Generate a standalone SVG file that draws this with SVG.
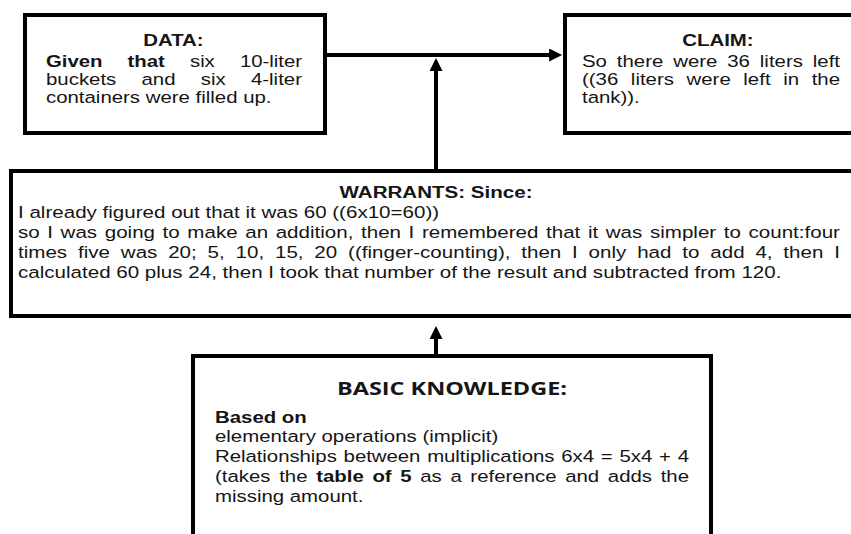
<svg xmlns="http://www.w3.org/2000/svg" width="851" height="534" viewBox="0 0 851 534">
<style>
.box{fill:#fff;stroke:#000;stroke-width:4}
.t{font-family:"Liberation Sans",Arial,sans-serif;font-size:17px;fill:#151515}
.b{font-weight:bold}
.hd{font-family:"Open Sans","Noto Sans",sans-serif;font-size:17px;font-weight:bold;fill:#151515}
.c{fill:none;stroke:#000;stroke-width:4}
</style>
<defs>
<marker id="ah" viewBox="0 0 10 10" refX="3" refY="5" markerWidth="14" markerHeight="13" markerUnits="userSpaceOnUse" orient="auto">
<path d="M0,0 L10,5 L0,10 z" fill="#000"/>
</marker>
</defs>
<rect width="851" height="534" fill="#fff"/>
<g id="connectors">
<line class="c" x1="327" y1="55" x2="553" y2="55" marker-end="url(#ah)"/>
<line class="c" x1="436" y1="169" x2="436" y2="67" marker-end="url(#ah)"/>
<line class="c" x1="436" y1="356" x2="436" y2="335" marker-end="url(#ah)"/>
</g>
<g id="data">
<rect class="box" x="25" y="15" width="300" height="118"/>
<g transform="translate(46 0) scale(1.2 1)">
<text class="t b" x="106.2" y="46" text-anchor="middle">DATA:</text>
<text class="t" x="0" y="67" word-spacing="16.3" textLength="213.3" lengthAdjust="spacing"><tspan class="b">Given that</tspan> six 10-liter</text>
<text class="t" x="0" y="85" word-spacing="16.3" textLength="213.3" lengthAdjust="spacing">buckets and six 4-liter</text>
<text class="t" x="0" y="103">containers were filled up.</text>
</g>
</g>
<g id="claim">
<rect class="box" x="565" y="15" width="320" height="118"/>
<g transform="translate(582 0) scale(1.2 1)">
<text class="t b" x="113.3" y="46" text-anchor="middle">CLAIM:</text>
<text class="t" x="0" y="67" word-spacing="3.5" textLength="215" lengthAdjust="spacing">So there were 36 liters left</text>
<text class="t" x="0" y="85" word-spacing="5.8" textLength="215" lengthAdjust="spacing">((36 liters were left in the</text>
<text class="t" x="0" y="103">tank)).</text>
</g>
</g>
<g id="warrants">
<rect class="box" x="11" y="171" width="880" height="145"/>
<g transform="translate(18 0) scale(1.21 1)">
<text class="t b" x="345.5" y="198" text-anchor="middle">WARRANTS: Since:</text>
<text class="t" x="0" y="218">I already figured out that it was 60 ((6x10=60))</text>
<text class="t" x="0" y="238" word-spacing="1.53" textLength="679.3" lengthAdjust="spacing">so I was going to make an addition, then I remembered that it was simpler to count:four</text>
<text class="t" x="0" y="258" word-spacing="4.2" textLength="679.3" lengthAdjust="spacing">times five was 20; 5, 10, 15, 20 ((finger-counting), then I only had to add 4, then I</text>
<text class="t" x="0" y="278">calculated 60 plus 24, then I took that number of the result and subtracted from 120.</text>
</g>
</g>
<g id="basic-knowledge">
<rect class="box" x="193" y="356" width="518" height="200"/>
<text class="hd" x="452" y="395" text-anchor="middle" textLength="230" lengthAdjust="spacingAndGlyphs">BASIC KNOWLEDGE:</text>
<g transform="translate(215 0) scale(1.2 1)">
<text class="t b" x="0" y="423">Based on</text>
<text class="t" x="0" y="442">elementary operations (implicit)</text>
<text class="t" x="0" y="462" word-spacing="0.97" textLength="395" lengthAdjust="spacing">Relationships between multiplications 6x4 = 5x4 + 4</text>
<text class="t" x="0" y="482" word-spacing="2.46" textLength="395" lengthAdjust="spacing">(takes the <tspan class="b">table of 5</tspan> as a reference and adds the</text>
<text class="t" x="0" y="502">missing amount.</text>
</g>
</g>
</svg>
